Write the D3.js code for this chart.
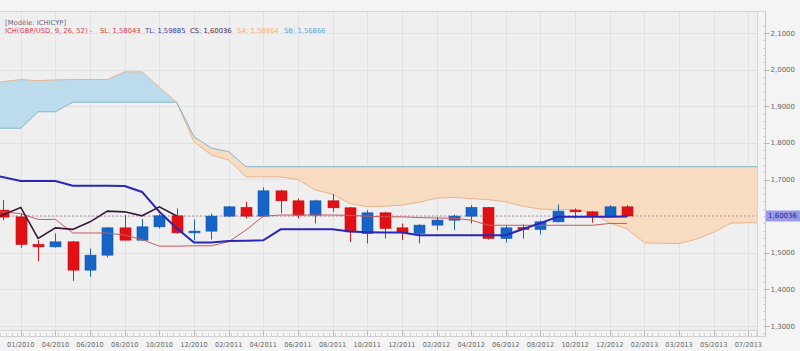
<!DOCTYPE html>
<html>
<head>
<meta charset="utf-8">
<script src="https://cdn.jsdelivr.net/npm/d3@7"></script>
<style>
  body { margin: 0; background: #f3f3f3; }
  svg { display: block; font-family: "DejaVu Sans", Verdana, sans-serif; }
</style>
</head>
<body>
<svg id="chart" width="800" height="351"></svg>
<script>
// monthly candles, index 0 = first visible bar
const opens  = [1.6164, 1.598, 1.5227, 1.5161, 1.5298, 1.4525, 1.4934, 1.568, 1.5344, 1.5708, 1.6008, 1.5544, 1.559, 1.600, 1.6238, 1.600, 1.669, 1.6418, 1.6027, 1.6418, 1.6227, 1.5527, 1.609, 1.568, 1.5527, 1.5754, 1.589, 1.600, 1.6238, 1.539, 1.569, 1.5637, 1.5844, 1.6164, 1.6117, 1.600, 1.6254];
const highs  = [1.6437, 1.6074, 1.5344, 1.5527, 1.532, 1.5117, 1.570, 1.6027, 1.5918, 1.605, 1.621, 1.591, 1.607, 1.628, 1.6391, 1.6784, 1.672, 1.648, 1.645, 1.6601, 1.625, 1.6164, 1.612, 1.580, 1.578, 1.598, 1.604, 1.630, 1.625, 1.5735, 1.577, 1.588, 1.632, 1.621, 1.614, 1.630, 1.630];
const lows   = [1.5891, 1.5134, 1.477, 1.514, 1.4232, 1.4342, 1.4872, 1.533, 1.533, 1.5664, 1.552, 1.534, 1.536, 1.598, 1.5937, 1.598, 1.6074, 1.5937, 1.580, 1.6117, 1.5298, 1.5254, 1.5391, 1.5344, 1.5254, 1.5617, 1.5617, 1.580, 1.536, 1.5281, 1.539, 1.550, 1.583, 1.5937, 1.582, 1.598, 1.598];
const closes = [1.5973, 1.5227, 1.5161, 1.5298, 1.4525, 1.4934, 1.568, 1.5344, 1.5708, 1.6008, 1.5544, 1.559, 1.600, 1.6254, 1.600, 1.6691, 1.6418, 1.6027, 1.6418, 1.6227, 1.5571, 1.609, 1.5664, 1.5544, 1.5754, 1.5891, 1.600, 1.6238, 1.5391, 1.568, 1.5637, 1.5844, 1.6137, 1.6117, 1.6008, 1.6254, 1.60036];
const bearish = [true, true, true, false, true, false, false, true, false, false, true, false, false, false, true, false, true, true, false, true, true, false, true, true, false, false, false, false, true, false, true, false, false, true, true, false, true];

const tenkan = [1.708, 1.696, 1.696, 1.696, 1.683, 1.683, 1.683, 1.682, 1.666, 1.612, 1.567, 1.528, 1.528, 1.532, 1.533, 1.534, 1.564, 1.564, 1.564, 1.564, 1.558, 1.556, 1.555, 1.555, 1.548, 1.548, 1.548, 1.548, 1.548, 1.548, 1.565, 1.581, 1.598, 1.598, 1.598, 1.598, 1.599];
const kijun  = [1.612, 1.607, 1.591, 1.591, 1.554, 1.554, 1.554, 1.548, 1.536, 1.518, 1.518, 1.519, 1.519, 1.530, 1.562, 1.600, 1.603, 1.603, 1.603, 1.603, 1.602, 1.600, 1.598, 1.598, 1.596, 1.595, 1.594, 1.589, 1.575, 1.575, 1.575, 1.575, 1.575, 1.575, 1.575, 1.580, 1.580];
// cloud, projected 26 bars ahead (index 0..44)
const senkouA = [1.966, 1.973, 1.970, 1.972, 1.973, 1.973, 1.973, 1.994, 1.994, 1.952, 1.911, 1.803, 1.767, 1.753, 1.707, 1.707, 1.707, 1.700, 1.671, 1.660, 1.634, 1.626, 1.627, 1.630, 1.638, 1.649, 1.651, 1.648, 1.645, 1.639, 1.627, 1.619, 1.618, 1.618, 1.609, 1.581, 1.565, 1.527, 1.526, 1.525, 1.537, 1.556, 1.581, 1.582, 1.582];
const senkouB = [1.840, 1.840, 1.885, 1.885, 1.911, 1.911, 1.911, 1.911, 1.911, 1.911, 1.911, 1.817, 1.786, 1.776, 1.735, 1.735, 1.735, 1.735, 1.735, 1.735, 1.735, 1.735, 1.735, 1.735, 1.735, 1.735, 1.735, 1.735, 1.735, 1.735, 1.735, 1.735, 1.735, 1.735, 1.735, 1.735, 1.735, 1.735, 1.735, 1.735, 1.735, 1.735, 1.735, 1.735, 1.735];
const chikouLag = 26;
const lastPrice = 1.60036;

const dateLabels = ["01/2010", "04/2010", "06/2010", "08/2010", "10/2010", "12/2010", "02/2011", "04/2011", "06/2011", "08/2011", "10/2011", "12/2011", "02/2012", "04/2012", "06/2012", "08/2012", "10/2012", "12/2012", "02/2013", "03/2013", "05/2013", "07/2013"];
const priceTicks = [1.3, 1.4, 1.5, 1.7, 1.8, 1.9, 2.0, 2.1];

const legendItems = [
    { text: "ICH(GBP/USD, 9, 26, 52) -", x: 5, color: "#e0404c" },
    { text: "SL: 1,58043", x: 100, color: "#d03a48" },
    { text: "TL: 1,59885", x: 145, color: "#3a3a9a" },
    { text: "CS: 1,60036", x: 190, color: "#4a2a4a" },
    { text: "SA: 1,58964", x: 237, color: "#f2b27a" },
    { text: "SB: 1,56866", x: 284, color: "#5aa8d8" }
];

const plot = { left: 0, right: 757, top: 11, bottom: 330 };
const fmt = v => d3.format(".4f")(v).replace(".", ",");

const svg = d3.select("#chart");

const x = d3.scaleLinear().domain([-0.2, 43.5]).range([plot.left, plot.right]);
const y = d3.scaleLinear().domain([1.3, 2.1]).range([326, 33]);
// the first value also covers the sliver left of bar 0
const xi = i => i === 0 ? x(x.domain()[0]) : x(i);

svg.append("rect").attr("x", 0).attr("y", 0).attr("width", 800).attr("height", 351).attr("fill", "#f4f4f4");
svg.append("rect")
    .attr("x", plot.left).attr("y", plot.top)
    .attr("width", plot.right - plot.left).attr("height", plot.bottom - plot.top)
    .attr("fill", "#efefef");

const defs = svg.append("defs");
defs.append("clipPath").attr("id", "plotClip")
    .append("rect")
    .attr("x", plot.left).attr("y", plot.top)
    .attr("width", plot.right - plot.left).attr("height", plot.bottom - plot.top);

// grid
const grid = svg.append("g").attr("clip-path", "url(#plotClip)");
grid.selectAll(".hg")
    .data(d3.range(1.3, 2.15, 0.1))
    .join("line")
    .attr("x1", plot.left).attr("x2", plot.right)
    .attr("y1", d => Math.round(y(d)) + 0.5).attr("y2", d => Math.round(y(d)) + 0.5)
    .attr("stroke", "#e2e2e2");
grid.selectAll(".vg")
    .data(dateLabels)
    .join("line")
    .attr("x1", (d, i) => Math.round(x(1 + 2 * i)) + 0.5).attr("x2", (d, i) => Math.round(x(1 + 2 * i)) + 0.5)
    .attr("y1", plot.top).attr("y2", plot.bottom)
    .attr("stroke", "#e2e2e2");

// cloud
const cloudData = senkouA.map((a, i) => ({ i, a, b: senkouB[i] }));
defs.append("clipPath").attr("id", "aboveB")
    .append("path")
    .attr("d", d3.area().x(d => xi(d.i)).y0(d => y(d.b)).y1(0)(cloudData));
defs.append("clipPath").attr("id", "belowB")
    .append("path")
    .attr("d", d3.area().x(d => xi(d.i)).y0(d => y(d.b)).y1(351)(cloudData));

const cloud = svg.append("g").attr("clip-path", "url(#plotClip)");
const cloudArea = d3.area().x(d => xi(d.i)).y0(d => y(d.b)).y1(d => y(d.a));
cloud.append("g").attr("clip-path", "url(#aboveB)")
    .append("path").datum(cloudData).attr("d", cloudArea).attr("fill", "#bcdcee");
cloud.append("g").attr("clip-path", "url(#belowB)")
    .append("path").datum(cloudData).attr("d", cloudArea).attr("fill", "#f8dcc2");
cloud.append("path").datum(cloudData)
    .attr("d", d3.line().x(d => xi(d.i)).y(d => y(d.a)))
    .attr("fill", "none").attr("stroke", "#e9b48c").attr("stroke-width", 1);
cloud.append("path").datum(cloudData)
    .attr("d", d3.line().x(d => xi(d.i)).y(d => y(d.b)))
    .attr("fill", "none").attr("stroke", "#80b4c8").attr("stroke-width", 1);

// last price dashed line
svg.append("line")
    .attr("x1", plot.left).attr("x2", plot.right)
    .attr("y1", y(lastPrice)).attr("y2", y(lastPrice))
    .attr("stroke", "#b890a4").attr("stroke-width", 1).attr("stroke-dasharray", "2,2");

// candles
const candles = opens.map((o, i) => ({ i, o, h: highs[i], l: lows[i], c: closes[i], down: bearish[i] }));
const bodyW = 11;
const cg = svg.append("g").attr("clip-path", "url(#plotClip)");
const candle = cg.selectAll(".candle").data(candles).join("g");
candle.append("line")
    .attr("x1", d => Math.round(x(d.i)) + 0.5).attr("x2", d => Math.round(x(d.i)) + 0.5)
    .attr("y1", d => y(d.h)).attr("y2", d => y(d.l))
    .attr("stroke", d => d.down ? "#d9191c" : "#1a62c0");
candle.append("rect")
    .attr("x", d => Math.round(x(d.i)) + 0.5 - bodyW / 2)
    .attr("width", bodyW)
    .attr("y", d => y(Math.max(d.o, d.c)))
    .attr("height", d => Math.max(1.5, Math.abs(y(d.o) - y(d.c))))
    .attr("fill", d => d.down ? "#e01014" : "#1664c6")
    .attr("stroke", d => d.down ? "#c81014" : "#1458b0")
    .attr("stroke-width", 0.6);

// ichimoku lines
const lines = svg.append("g").attr("clip-path", "url(#plotClip)");
const lineGen = d3.line().x((d, i) => xi(i)).y(d => y(d));
lines.append("path").datum(kijun).attr("d", lineGen)
    .attr("fill", "none").attr("stroke", "#c85a5e").attr("stroke-width", 1);
lines.append("path").datum(tenkan).attr("d", lineGen)
    .attr("fill", "none").attr("stroke", "#2828b4").attr("stroke-width", 2);
const chikou = closes.slice(chikouLag);
lines.append("path").datum(chikou).attr("d", lineGen)
    .attr("fill", "none").attr("stroke", "#3a1838").attr("stroke-width", 1.6);

// frame
svg.append("line").attr("x1", 0).attr("x2", 766).attr("y1", plot.top + 0.5).attr("y2", plot.top + 0.5).attr("stroke", "#d4d4d4");
svg.append("line").attr("x1", plot.right + 0.5).attr("x2", plot.right + 0.5).attr("y1", plot.top).attr("y2", 337).attr("stroke", "#d4d4d4");
svg.append("line").attr("x1", 0).attr("x2", plot.right).attr("y1", plot.bottom + 0.5).attr("y2", plot.bottom + 0.5).attr("stroke", "#d4d4d4");

// right axis
const yAxis = svg.append("g").attr("transform", "translate(765.5,0)");
yAxis.append("line").attr("y1", plot.top).attr("y2", 337).attr("stroke", "#c8c8c8");
yAxis.selectAll(".minor")
    .data(d3.range(1.28, 2.13, 0.02))
    .join("line")
    .attr("x1", -2).attr("x2", 0)
    .attr("y1", d => Math.round(y(d)) + 0.5).attr("y2", d => Math.round(y(d)) + 0.5)
    .attr("stroke", "#c8c8c8");
yAxis.selectAll(".major")
    .data(priceTicks)
    .join("line")
    .attr("x1", 0).attr("x2", 4)
    .attr("y1", d => Math.round(y(d)) + 0.5).attr("y2", d => Math.round(y(d)) + 0.5)
    .attr("stroke", "#b0b0b0");
yAxis.selectAll("text")
    .data(priceTicks)
    .join("text")
    .attr("x", 5).attr("y", d => y(d) + 2.5)
    .attr("font-size", 7).attr("fill", "#666")
    .text(fmt);

// last price tag
svg.append("rect").attr("x", 766).attr("y", y(lastPrice) - 5.5).attr("width", 34).attr("height", 11).attr("fill", "#9a9ae8");
svg.append("text").attr("x", 768).attr("y", y(lastPrice) + 2.5)
    .attr("font-size", 7).attr("fill", "#26268a")
    .text(d3.format(".5f")(lastPrice).replace(".", ","));

// bottom axis
const xAxis = svg.append("g");
xAxis.append("line").attr("x1", 0).attr("x2", 766).attr("y1", 336.5).attr("y2", 336.5).attr("stroke", "#d0d0d0");
xAxis.selectAll(".xminor")
    .data(d3.range(-0.2, 43.5, 1 / 3))
    .join("line")
    .attr("x1", d => Math.round(x(d)) + 0.5).attr("x2", d => Math.round(x(d)) + 0.5)
    .attr("y1", 333).attr("y2", 336)
    .attr("stroke", "#cfcfcf");
xAxis.selectAll(".xmajor")
    .data(dateLabels)
    .join("line")
    .attr("x1", (d, i) => Math.round(x(1 + 2 * i)) + 0.5).attr("x2", (d, i) => Math.round(x(1 + 2 * i)) + 0.5)
    .attr("y1", 331).attr("y2", 336)
    .attr("stroke", "#b8b8b8");
xAxis.selectAll("text")
    .data(dateLabels)
    .join("text")
    .attr("x", (d, i) => x(1 + 2 * i)).attr("y", 347)
    .attr("text-anchor", "middle")
    .attr("font-size", 6.6).attr("fill", "#666")
    .text(d => d);

// legend
svg.append("text").attr("x", 5).attr("y", 25)
    .attr("font-size", 6.8).attr("fill", "#6c6c80")
    .text("[Modèle: ICHICYP]");
svg.selectAll(".legend")
    .data(legendItems)
    .join("text")
    .attr("x", d => d.x).attr("y", 33)
    .attr("font-size", 6.8).attr("fill", d => d.color)
    .text(d => d.text);
</script>
</body>
</html>
